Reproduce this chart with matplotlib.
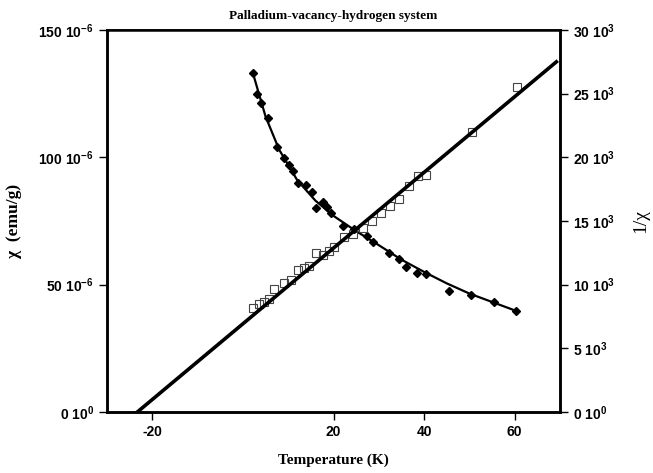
import numpy as np
import matplotlib
matplotlib.use('Agg')
import matplotlib.pyplot as plt

plt.rcParams['mathtext.fontset'] = 'custom'
plt.rcParams['mathtext.rm'] = 'Liberation Sans:bold'
plt.rcParams['mathtext.default'] = 'rm'

# chi (emu/g, in 1e-6) vs T (K) -- filled diamonds
chi_T = [2.2, 3.1, 4.0, 5.5, 7.5, 9.1, 10.2, 11.1, 12.2, 14.0, 15.3, 16.2, 17.7,
         18.6, 19.5, 22.2, 24.6, 27.3, 28.8, 32.2, 34.4, 36.1, 38.4, 40.4,
         45.5, 50.3, 55.4, 60.3]
chi_val = [133.1, 124.9, 121.3, 115.4, 104.0, 99.7, 97.0, 94.6, 89.9, 89.1, 86.4,
           80.1, 82.5, 80.5, 78.1, 73.0, 71.8, 69.1, 66.7, 62.4, 60.1, 56.9,
           54.6, 54.2, 47.5, 45.9, 43.2, 39.7]

# smooth curve drawn through the chi points
curve_T = [2.2, 5, 8, 12, 16, 20, 25, 30, 35, 40, 45, 50, 55, 60.3]
curve_chi = [133.1, 116.0, 103.0, 91.0, 83.0, 77.0, 71.0, 65.5, 59.8, 55.0,
             50.5, 46.5, 43.2, 39.7]

# 1/chi (in 1e3) vs T -- open squares
inv_T = [2.2, 3.5, 4.7, 5.8, 6.9, 9.1, 10.6, 12.2, 13.5, 14.6, 16.2, 17.7, 19.1,
         20.2, 22.4, 24.4, 26.4, 28.4, 30.4, 32.4, 34.4, 36.6, 38.6, 40.4,
         50.6, 60.5]
inv_val = [8.17, 8.48, 8.64, 8.88, 9.66, 10.13, 10.37, 11.15, 11.31, 11.47, 12.49,
           12.33, 12.65, 12.96, 13.75, 13.98, 14.45, 15.00, 15.63, 16.18, 16.73,
           17.75, 18.54, 18.62, 22.0, 25.5]

# straight line fit for 1/chi
fit_T = [-23.3, 69.2]
fit_inv = [0.0, 27.5]

left_ticks = [0, 50, 100, 150]
left_labels = ['0 10$^{0}$', '50 10$^{-6}$', '100 10$^{-6}$', '150 10$^{-6}$']
right_ticks = [0, 5, 10, 15, 20, 25, 30]
right_labels = ['0 10$^{0}$'] + ['%d 10$^{3}$' % v for v in right_ticks[1:]]
x_ticks = [-20, 20, 40, 60]

fig = plt.figure(figsize=(6.53, 4.73), dpi=100)
ax = fig.add_axes([0.1639, 0.129, 0.6937, 0.8076])
ax2 = ax.twinx()

ax.plot(curve_T, curve_chi, '-', color='black', lw=1.6, zorder=3)
ax.plot(chi_T, chi_val, 'D', color='black', ms=4.5, zorder=4)

ax2.plot(fit_T, fit_inv, '-', color='black', lw=2.6, zorder=3)
ax2.plot(inv_T, inv_val, 's', mfc='none', mec='#444444', mew=0.8, ms=6, zorder=2)

ax.set_xlim(-30, 70)
ax.set_ylim(0, 150)
ax2.set_ylim(0, 30)

ax.set_xticks(x_ticks)
ax.set_xticklabels([str(v) for v in x_ticks])
ax.set_yticks(left_ticks)
ax.set_yticklabels(left_labels)
ax2.set_yticks(right_ticks)
ax2.set_yticklabels(right_labels)

for a in (ax, ax2):
    a.tick_params(direction='out', length=6, width=1, labelsize=10, colors='black')
    for lab in a.get_xticklabels() + a.get_yticklabels():
        lab.set_fontfamily('Liberation Sans')
        lab.set_fontweight('bold')
    for s in a.spines.values():
        s.set_linewidth(1.8)
ax.spines['top'].set_linewidth(1.2)

ax.set_title('Palladium-vacancy-hydrogen system', family='Liberation Serif',
             fontweight='bold', fontsize=9.5, pad=8)
ax.set_xlabel('Temperature (K)', family='Liberation Serif', fontweight='bold',
              fontsize=11, labelpad=10)
ax.set_ylabel('χ  (emu/g)', family='Liberation Serif', fontweight='bold',
              fontsize=12.5, labelpad=12)
ax2.set_ylabel('1/χ', family='Liberation Serif', fontsize=14, labelpad=12)

fig.savefig('out.png', dpi=100)
